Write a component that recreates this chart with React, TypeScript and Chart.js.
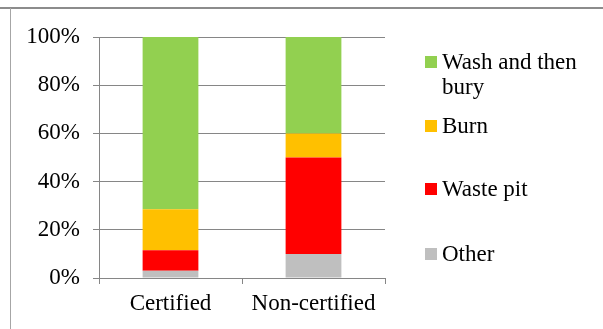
import React, { useEffect, useRef } from "react";
import { Chart, registerables } from "chart.js";

Chart.register(...registerables);

const categories = ["Certified", "Non-certified"];
const seriesNames = ["Other", "Waste pit", "Burn", "Wash and then bury"];
const otherValues = [3, 10];
const wastePitValues = [8.5, 40];
const burnValues = [17, 10];
const washValues = [71.5, 40];
const seriesColors = ["#BFBFBF", "#FF0000", "#FFC000", "#92D050"];
const yTickValues = [0, 20, 40, 60, 80, 100];

const FONT = "'Liberation Serif', 'Times New Roman', serif";

export default function App() {
  const canvasRef = useRef<HTMLCanvasElement | null>(null);

  useEffect(() => {
    document.body.style.margin = "0";
    const ctx = canvasRef.current;
    if (!ctx) return;
    const values = [otherValues, wastePitValues, burnValues, washValues];
    const chart = new Chart(ctx, {
      type: "bar",
      data: {
        labels: categories,
        datasets: seriesNames.map((name, i) => ({
          label: name,
          data: values[i],
          backgroundColor: seriesColors[i],
          borderWidth: 0,
          barPercentage: 0.39,
          categoryPercentage: 1,
        })),
      },
      options: {
        animation: false,
        responsive: false,
        maintainAspectRatio: false,
        layout: { padding: { left: 0, top: 37, right: 218, bottom: 0 } },
        plugins: {
          legend: { display: false },
          tooltip: { enabled: false },
        },
        scales: {
          x: {
            stacked: true,
            afterFit: (scale: any) => {
              scale.height = 51;
            },
            grid: {
              display: true,
              drawOnChartArea: false,
              drawTicks: true,
              tickLength: 6,
              color: "#868686",
              offset: true,
            },
            border: { display: true, color: "#868686", width: 1 },
            ticks: {
              color: "#000",
              padding: 6,
              font: { family: FONT, size: 23 },
              maxRotation: 0,
            },
          },
          y: {
            stacked: true,
            min: 0,
            max: 100,
            afterFit: (scale: any) => {
              scale.width = 99;
            },
            afterBuildTicks: (scale: any) => {
              scale.ticks = yTickValues.map((v) => ({ value: v }));
            },
            grid: {
              color: "#868686",
              lineWidth: 1,
              drawTicks: true,
              tickLength: 6,
            },
            border: { display: true, color: "#868686", width: 1 },
            ticks: {
              color: "#000",
              padding: 13,
              font: { family: FONT, size: 23 },
              callback: (v: any) => v + "%",
            },
          },
        },
      },
    });
    return () => chart.destroy();
  }, []);

  const legendOrder = [3, 2, 1, 0];
  const legendTops = [49, 113, 176, 241];

  return (
    <div style={{ position: "relative", width: 603, height: 329, overflow: "hidden", background: "#fff" }}>
      <div style={{ position: "absolute", left: 0, top: 7, width: 603, height: 2, background: "#8c8c8c" }} />
      <div style={{ position: "absolute", left: 10, top: 8, width: 1, height: 321, background: "#a6a6a6" }} />
      <canvas ref={canvasRef} width={603} height={329} style={{ position: "absolute", left: 0, top: 0, width: 603, height: 329 }} />
      {legendOrder.map((idx, k) => (
        <div key={seriesNames[idx]} style={{ position: "absolute", left: 425, top: legendTops[k], width: 170, fontFamily: FONT, fontSize: 23, lineHeight: "25px", color: "#000" }}>
          <span style={{ position: "absolute", left: 0, top: 7, width: 12, height: 12, background: seriesColors[idx] }} />
          <div style={{ marginLeft: 17 }}>{seriesNames[idx]}</div>
        </div>
      ))}
    </div>
  );
}
